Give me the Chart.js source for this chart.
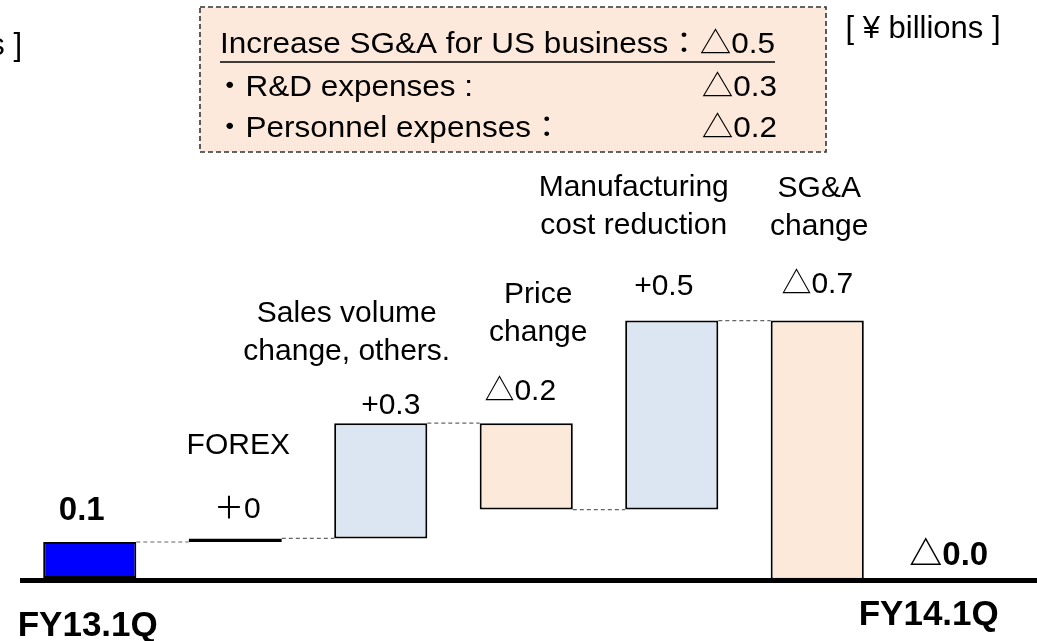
<!DOCTYPE html>
<html>
<head>
<meta charset="utf-8">
<script src="https://cdn.jsdelivr.net/npm/chart.js@4"></script>
<style>
  html, body { margin: 0; padding: 0; background: #fff; }
  canvas { display: block; }
</style>
</head>
<body>
<canvas id="bridgeChart" width="1037" height="641"></canvas>
<script>
// FY13.1Q -> FY14.1Q operating income bridge, ¥ billions
const categories = ["FY13.1Q", "FOREX", "Sales volume change, others.", "Price change",
  "Manufacturing cost reduction", "SG&A change", "FY14.1Q"];
const nameLines = [["FY13.1Q"], ["FOREX"], ["Sales volume", "change, others."], ["Price", "change"],
  ["Manufacturing", "cost reduction"], ["SG&A", "change"], ["FY14.1Q"]];
const startValue = 0.10;
const deltas = [0.01, 0.32, -0.24, 0.525, -0.72];
const valueLabels = ["0.1", "＋0", "+0.3", "△0.2", "+0.5", "△0.7", "△0.0"];
const noteTitle = "Increase SG&A for US business：△0.5";
const noteItems = ["・R&D expenses :", "・Personnel expenses："];
const noteValues = ["△0.3", "△0.2"];
const unitText = "[ ¥ billions ]";

// floating bars [from, to]
const ranges = [[0, startValue]];
let level = startValue;
deltas.forEach(d => {
  ranges.push([level, level + d]);
  level += d;
});
ranges.push(null);

const BLUE = "#0000ff";
const UP = "#dce6f2";
const DOWN = "#fde9d9";
const colors = ranges.map((r, i) => {
  if (i === 0) return BLUE;
  if (!r) return UP;
  if (Math.abs(r[1] - r[0]) < 0.05) return "#000";
  return r[1] >= r[0] ? UP : DOWN;
});

const FONT = "'Liberation Sans', Arial, 'Noto Sans CJK JP', sans-serif";

function text(ctx, str, x, y, size, opts = {}) {
  const sx = opts.sx || 1;
  ctx.save();
  ctx.translate(x, y);
  ctx.scale(sx, 1);
  ctx.font = (opts.bold ? "bold " : "") + size + "px " + FONT;
  ctx.fillStyle = "#000";
  ctx.textAlign = opts.align || "center";
  ctx.textBaseline = "middle";
  ctx.fillText(str, 0, 0);
  const w = ctx.measureText(str).width * sx;
  ctx.restore();
  return w;
}

// label nudges: v = value label, n = last line of name, from bar centre / top
const labelPos = [
  { vdx: -8, vdy: -31, vbold: true, ndx: -2, ndy: 48 },
  { vdx: 2, vdy: -29, ndx: 3, ndy: -93 },
  { vdx: 10, vdy: -17, ndx: -34, ndy: -71 },
  { vdx: -6, vdy: -31, ndx: 12, ndy: -90 },
  { vdx: -8, vdy: -34, ndx: -38, ndy: -95 },
  { vdx: 0, vdy: -36, ndx: 2, ndy: -94 },
  { vdx: -14, vdy: -22, vbold: true, ndx: -34, ndy: 37 }
];

const bridgePlugin = {
  id: "bridge",
  afterDatasetsDraw(chart) {
    const ctx = chart.ctx;
    const area = chart.chartArea;
    const xs = chart.scales.x;
    const ys = chart.scales.y;
    const bars = chart.getDatasetMeta(0).data;
    const zeroY = ys.getPixelForValue(0);

    // dashed connectors
    ctx.save();
    ctx.strokeStyle = "#666";
    ctx.lineWidth = 1.2;
    ctx.setLineDash([4, 3]);
    for (let i = 0; i < ranges.length - 2; i++) {
      const a = bars[i], b = bars[i + 1];
      const y = ys.getPixelForValue(ranges[i][1]);
      ctx.beginPath();
      ctx.moveTo(a.x + a.width / 2, y);
      ctx.lineTo(b.x - b.width / 2, y);
      ctx.stroke();
    }
    ctx.restore();

    // baseline
    ctx.save();
    ctx.fillStyle = "#000";
    ctx.fillRect(area.left + 3, zeroY, chart.width - area.left - 3, 5);
    ctx.restore();

    // labels
    categories.forEach((c, i) => {
      const p = labelPos[i];
      const cx = xs.getPixelForValue(i);
      const top = ranges[i] ? Math.min(ys.getPixelForValue(ranges[i][0]), ys.getPixelForValue(ranges[i][1])) : zeroY;
      text(ctx, valueLabels[i], cx + p.vdx, top + p.vdy, p.vbold ? 33 : 30, { bold: p.vbold });
      const lines = nameLines[i];
      const edge = i === 0 || i === categories.length - 1;
      const baseY = edge ? zeroY + p.ndy : top + p.ndy;
      lines.forEach((ln, k) => {
        const y = baseY - (lines.length - 1 - k) * 38;
        text(ctx, ln, cx + p.ndx, y, edge ? 35 : 30, { bold: edge });
      });
    });

    // units (one cut off at the left edge, one at the right)
    text(ctx, unitText, 22, 46, 31, { align: "right" });
    text(ctx, unitText, 923, 29, 31);

    // note box
    ctx.save();
    ctx.fillStyle = "#fde9db";
    ctx.fillRect(200, 7, 626, 145);
    ctx.strokeStyle = "#333";
    ctx.lineWidth = 1.6;
    ctx.setLineDash([5, 3]);
    ctx.strokeRect(200, 7, 626, 145);
    ctx.restore();
    const w = text(ctx, noteTitle, 220, 45, 30, { align: "left", sx: 1.05 });
    ctx.save();
    ctx.strokeStyle = "#000";
    ctx.lineWidth = 1.5;
    ctx.beginPath();
    ctx.moveTo(220, 62);
    ctx.lineTo(220 + w, 62);
    ctx.stroke();
    ctx.restore();
    noteItems.forEach((s, k) => {
      const y = 88 + k * 41;
      text(ctx, s, 214, y, 30, { align: "left", sx: 1.05 });
      text(ctx, noteValues[k], 777, y, 30, { align: "right", sx: 1.05 });
    });
  }
};

new Chart(document.getElementById("bridgeChart").getContext("2d"), {
  type: "bar",
  data: {
    labels: categories,
    datasets: [{
      data: ranges,
      backgroundColor: colors,
      borderColor: "#000",
      borderWidth: 2,
      borderSkipped: false,
      categoryPercentage: 1,
      barPercentage: 0.64
    }]
  },
  options: {
    responsive: false,
    animation: false,
    layout: { padding: { left: 17, right: 1.5, top: 2, bottom: 63 } },
    plugins: { legend: { display: false }, tooltip: { enabled: false } },
    scales: {
      x: { display: false },
      y: { display: false, min: 0, max: 1.6 }
    }
  },
  plugins: [bridgePlugin]
});
</script>
</body>
</html>
